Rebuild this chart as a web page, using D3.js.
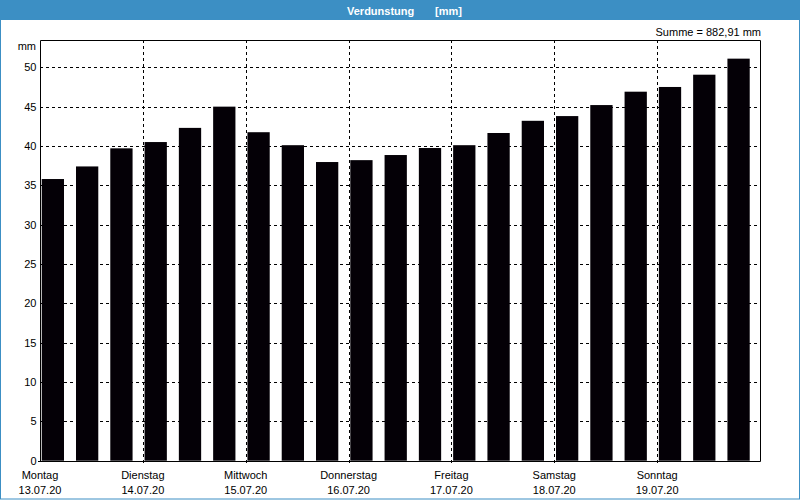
<!DOCTYPE html>
<html><head><meta charset="utf-8">
<script src="https://cdn.jsdelivr.net/npm/d3@7"></script>
<style>html,body{margin:0;padding:0;background:#fff;}svg{display:block;}</style>
</head><body>
<script>
const dayNames = ["Montag","Dienstag","Mittwoch","Donnerstag","Freitag","Samstag","Sonntag"];
const dayDates = ["13.07.20","14.07.20","15.07.20","16.07.20","17.07.20","18.07.20","19.07.20"];
const values = [35.8,37.4,39.7,40.5,42.3,45.0, 41.75,40.1,37.96,38.2,38.85,39.74, 40.1,41.65,43.2,43.8,45.2,46.9, 47.5,49.06,51.1];
const yTicks = [0,5,10,15,20,25,30,35,40,45,50];
const titleMain = "Verdunstung";
const titleUnit = "[mm]";
const sumText = "Summe = 882,91 mm";
const unitText = "mm";

const W = 800, H = 500;
const L = 40, R = 760, T = 40, B = 460.7;
const svg = d3.select("body").append("svg").attr("width", W).attr("height", H);
const font = "'Liberation Sans', Arial, sans-serif";

// frame
svg.append("rect").attr("x",0.5).attr("y",0.5).attr("width",W-1).attr("height",H-1.5)
  .attr("fill","#fff").attr("stroke","#3c8fc4").attr("stroke-width",1);
svg.append("rect").attr("x",0).attr("y",0).attr("width",W).attr("height",20).attr("fill","#3c8fc4");
const tt = svg.append("text").attr("y",14.5)
  .attr("fill","#fff").attr("font-weight","bold").attr("font-family",font).attr("font-size",11);
tt.append("tspan").attr("x",347).text(titleMain);
tt.append("tspan").attr("x",435).text(titleUnit);

const x = d3.scaleBand().domain(d3.range(values.length)).range([L, R]).paddingInner(0).paddingOuter(0);
const xDay = d3.scaleLinear().domain([0, dayNames.length]).range([L, R]);
const y = d3.scaleLinear().domain([0, 53.47]).range([B, T]);

// grid horizontal
const g = svg.append("g");
g.selectAll(".hg").data(yTicks.filter(d=>d>0)).enter().append("line")
  .attr("x1",L).attr("x2",R).attr("y1",d=>Math.round(y(d))+0.5).attr("y2",d=>Math.round(y(d))+0.5)
  .attr("stroke","#000").attr("stroke-dasharray","3,3");
// grid vertical
g.selectAll(".vg").data(d3.range(1,dayNames.length)).enter().append("line")
  .attr("x1",d=>Math.round(xDay(d))+0.5).attr("x2",d=>Math.round(xDay(d))+0.5)
  .attr("y1",T).attr("y2",B+3).attr("stroke","#000").attr("stroke-dasharray","3,3");

// bars
const bw = x.bandwidth();
svg.selectAll(".bar").data(values).enter().append("rect")
  .attr("x",(d,i)=>x(i)+bw*0.05).attr("width",bw*0.65)
  .attr("y",d=>y(d)).attr("height",d=>y(0)-y(d)).attr("fill","#040006");

// border
svg.append("path").attr("d",`M${L+0.5},${Math.round(B)+0.5}V${T+0.5}H${R+0.5}V${Math.round(B)+0.5}`)
  .attr("fill","none").attr("stroke","#000");
// x axis
const xa = svg.append("g").attr("transform",`translate(0,${Math.round(B)+0.5})`)
  .call(d3.axisBottom(xDay).tickValues([]).tickSizeOuter(0));
xa.select(".domain").attr("d",`M${L-2},0H${R+0.5}`).attr("stroke","#000");
// y axis labels
const ya = svg.append("g").attr("transform",`translate(${L+0.5},0)`)
  .call(d3.axisLeft(y).tickValues(yTicks).tickSize(0).tickPadding(4).tickFormat(d3.format("d")));
ya.select(".domain").remove();
ya.selectAll("text").attr("font-family",font).attr("font-size",11).attr("fill","#000");

svg.append("text").attr("x",36).attr("y",49.5).attr("text-anchor","end")
  .attr("font-family",font).attr("font-size",11).text(unitText);
svg.append("text").attr("x",761).attr("y",36).attr("text-anchor","end")
  .attr("font-family",font).attr("font-size",11).text(sumText);

// day labels
const dl = svg.append("g");
dl.selectAll(".dn").data(dayNames).enter().append("text")
  .attr("x",(d,i)=>xDay(i)).attr("y",479).attr("text-anchor","middle")
  .attr("font-family",font).attr("font-size",11).text(d=>d);
dl.selectAll(".dd").data(dayDates).enter().append("text")
  .attr("x",(d,i)=>xDay(i)).attr("y",494).attr("text-anchor","middle")
  .attr("font-family",font).attr("font-size",11).text(d=>d);
</script>
</body></html>
